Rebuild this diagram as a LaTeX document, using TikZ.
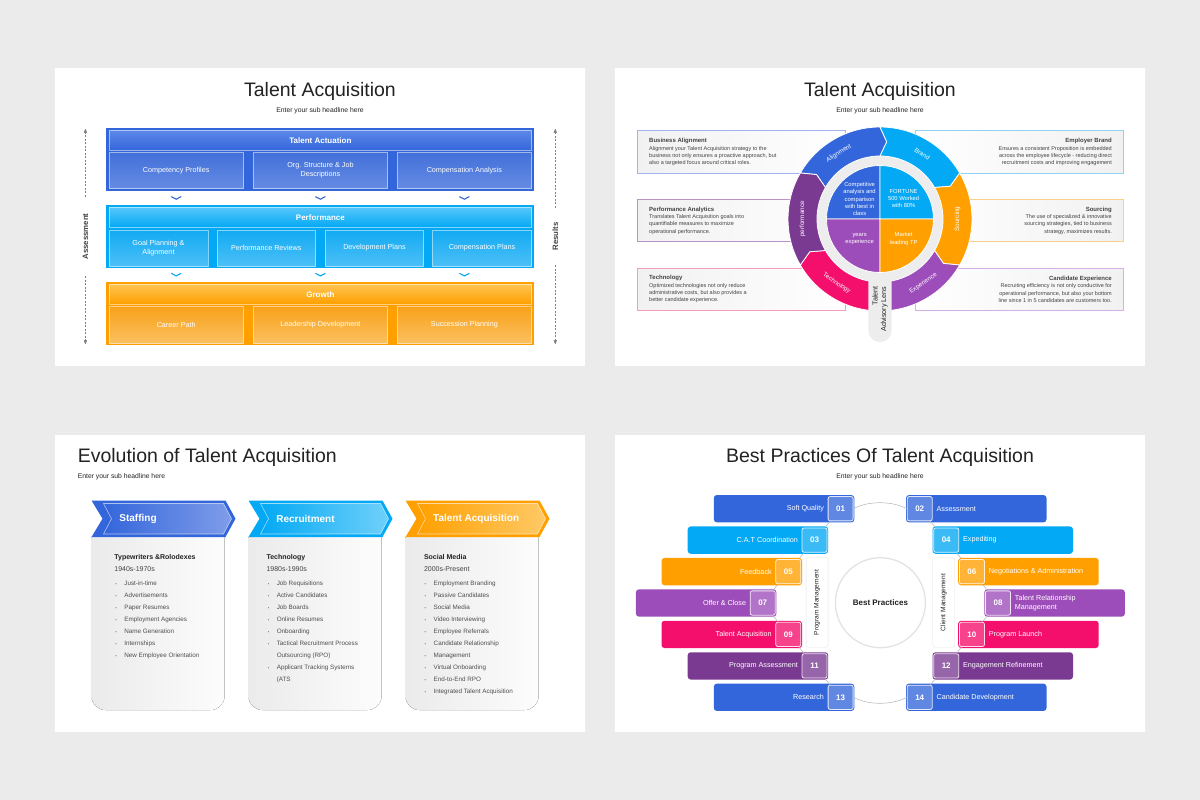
\documentclass[tikz,border=0pt]{standalone}
\usepackage{fontspec}
\setmainfont{Liberation Sans}
\usetikzlibrary{arrows,shapes,positioning}
\definecolor{pageGray}{HTML}{EBEBEB}
\definecolor{ink}{HTML}{222222}
\definecolor{boxGray}{HTML}{F1F1F1}
\definecolor{lensGray}{HTML}{EDEDED}
\definecolor{cBlue}{HTML}{3466DB}
\definecolor{cCyan}{HTML}{03A9F4}
\definecolor{cOrange}{HTML}{FFA000}
\definecolor{cPurple}{HTML}{9C4DB9}
\definecolor{cPink}{HTML}{F50F6C}
\definecolor{cPlum}{HTML}{7B3A91}
\definecolor{cBlueHi}{HTML}{5C88E8}
\definecolor{cBlueA}{HTML}{4270D9}
\definecolor{cBlueB}{HTML}{658CE4}
\definecolor{cBlueLt}{HTML}{7F9DE9}
\definecolor{cCyanHi}{HTML}{55C7FB}
\definecolor{cCyanA}{HTML}{12AAF3}
\definecolor{cCyanB}{HTML}{4CC0F7}
\definecolor{cCyanLt}{HTML}{70D0FA}
\definecolor{cOrangeHi}{HTML}{FFC552}
\definecolor{cOrangeA}{HTML}{F8A21A}
\definecolor{cOrangeB}{HTML}{FBC060}
\definecolor{cOrangeLt}{HTML}{FFC965}
\definecolor{bdBlue}{HTML}{9FB4EE}
\definecolor{bdPlum}{HTML}{B993C8}
\definecolor{bdPink}{HTML}{F59BBE}
\definecolor{bdCyan}{HTML}{8ED3F5}
\definecolor{bdOrange}{HTML}{FCD08A}
\definecolor{bdLilac}{HTML}{D5B0E3}
\newcommand\dotmark{\makebox[9pt][l]{\raisebox{0.6pt}{\scalebox{0.6}{\textbullet}}}}

\begin{document}
\begin{tikzpicture}[x=1pt,y=-1pt,>=stealth',
	title node/.style={text=ink,font=\fontsize{19.5}{22}\selectfont},
	sub node/.style={text=ink,font=\fontsize{6.8}{8}\selectfont},
	band node/.style={text=white,font=\fontsize{8}{9}\selectfont\bfseries},
	cell node/.style={text=white,align=center,font=\fontsize{7.2}{8.6}\selectfont},
	cell box/.style={draw=white,draw opacity=.5,line width=.6},
	drop mark/.style={line width=1.1},
	side node/.style={rotate=90,text=ink!85,font=\fontsize{7.8}{9}\selectfont\bfseries},
	side line/.style={->,gray,dash pattern=on 2pt off 1.5pt,line width=.5},
	info box/.style={line width=.6},
	info node/.style={text=ink!85,font=\fontsize{5.5}{7.35}\selectfont,inner sep=0},
	ring seg/.style={draw=white,line width=.8},
	seg node/.style={text=white,font=\fontsize{6.3}{7}\selectfont},
	quad node/.style={text=white,align=center,font=\fontsize{5.8}{7.2}\selectfont},
	arrow tag/.style={draw=white,draw opacity=.6,line width=.6},
	tag node/.style={text=white,font=\fontsize{10}{12}\selectfont\bfseries,anchor=west,inner sep=0},
	card head/.style={text=ink,font=\fontsize{7}{8}\selectfont\bfseries,anchor=west,inner sep=0},
	card year/.style={text=ink!85,font=\fontsize{7}{8}\selectfont,anchor=west,inner sep=0},
	card list/.style={text=ink!80,align=left,font=\fontsize{6.3}{12}\selectfont,anchor=west,inner sep=0},
	bar node/.style={minimum width=140.5,minimum height=27.3,rounded corners=3,inner sep=0},
	num node/.style={minimum width=25,minimum height=24.3,rounded corners=2,draw=white,line width=.8,
		fill=white,fill opacity=.22,draw opacity=.85,text opacity=1,text=white,
		font=\fontsize{8}{9}\selectfont\bfseries,inner sep=0},
	bar text/.style={text=white,align=left,font=\fontsize{7.2}{8.6}\selectfont,inner sep=0},
	conn/.style={gray!60,line width=.5},
	mgmt node/.style={rotate=90,draw=gray!20,fill=white,rounded corners=2,minimum width=89.5,
		minimum height=22,text=ink,font=\fontsize{6.6}{8}\selectfont}]

	\fill[pageGray] (0,0) rectangle (1200,800);
	\useasboundingbox (0,0) rectangle (1200,800);
	\fill[white] (55,68) rectangle (585,365.5);
	\fill[white] (615,68) rectangle (1145,365.5);
	\fill[white] (55,434.5) rectangle (585,732);
	\fill[white] (615,434.5) rectangle (1145,732);

	% top left: layered boxes
	\node[title node] (s1title) at (320,91.5) {Talent Acquisition};
	\node[sub node] (s1sub) at (320,111) {Enter your sub headline here};

	\fill[cBlue] (106.4,128.3) rectangle (533.7,190.7);
	\draw[cell box,top color=cBlueHi,bottom color=cBlue] (109.1,130.7) rectangle (531.7,150.3);
	\draw[cell box,top color=cBlueA,bottom color=cBlueB] (109.1,152) rectangle (243.3,188.7);
	\draw[cell box,top color=cBlueA,bottom color=cBlueB] (253.1,152) rectangle (387.7,188.7);
	\draw[cell box,top color=cBlueA,bottom color=cBlueB] (397.1,152) rectangle (531.7,188.7);
	\node[band node] (actu) at (320.4,140.7) {Talent Actuation};
	\node[cell node] (comp) at (176.2,170.4) {Competency Profiles};
	\node[cell node] (org) at (320.4,170.4) {Org. Structure \& Job\\Descriptions};
	\node[cell node] (cana) at (464.4,170.4) {Compensation Analysis};
	\draw[drop mark,cBlue] (171.2,196.6) -- (176.2,199.2) -- (181.2,196.6);
	\draw[drop mark,cBlue] (315.4,196.6) -- (320.4,199.2) -- (325.4,196.6);
	\draw[drop mark,cBlue] (459.4,196.6) -- (464.4,199.2) -- (469.4,196.6);

	\fill[cCyan] (106.4,205.3) rectangle (533.7,268);
	\draw[cell box,top color=cCyanHi,bottom color=cCyan] (109.1,207.3) rectangle (531.7,227.3);
	\draw[cell box,top color=cCyanA,bottom color=cCyanB] (109.1,230) rectangle (207.8,266);
	\draw[cell box,top color=cCyanA,bottom color=cCyanB] (217.3,230) rectangle (315.3,266);
	\draw[cell box,top color=cCyanA,bottom color=cCyanB] (325.5,230) rectangle (423.5,266);
	\draw[cell box,top color=cCyanA,bottom color=cCyanB] (432.3,230) rectangle (531.7,266);
	\node[band node] (perf) at (320.4,217.5) {Performance};
	\node[cell node] (goal) at (158.5,248) {Goal Planning \&\\Alignment};
	\node[cell node] (prev) at (266.3,248) {Performance Reviews};
	\node[cell node] (dev) at (374.5,248) {Development Plans};
	\node[cell node] (cplan) at (482,248) {Compensation Plans};
	\draw[drop mark,cCyan] (171.2,273.3) -- (176.2,275.9) -- (181.2,273.3);
	\draw[drop mark,cCyan] (315.4,273.3) -- (320.4,275.9) -- (325.4,273.3);
	\draw[drop mark,cCyan] (459.4,273.3) -- (464.4,275.9) -- (469.4,273.3);

	\fill[cOrange] (106.4,282) rectangle (533.7,344.7);
	\draw[cell box,top color=cOrangeHi,bottom color=cOrange] (109.1,284) rectangle (531.7,304);
	\draw[cell box,top color=cOrangeA,bottom color=cOrangeB] (109.1,306.7) rectangle (243.3,343.3);
	\draw[cell box,top color=cOrangeA,bottom color=cOrangeB] (253.1,306.7) rectangle (387.7,343.3);
	\draw[cell box,top color=cOrangeA,bottom color=cOrangeB] (397.1,306.7) rectangle (531.7,343.3);
	\node[band node] (grow) at (320.4,294.5) {Growth};
	\node[cell node] (career) at (176.2,325) {Career Path};
	\node[cell node] (lead) at (320.4,325) {Leadership Development};
	\node[cell node] (succ) at (464.4,325) {Succession Planning};

	\coordinate (asTop) at (85.4,129);
	\coordinate (asBot) at (85.4,344);
	\node[side node,inner xsep=16.5] (assess) at (85.4,236.5) {Assessment};
	\draw[side line] (assess) -- (asTop);
	\draw[side line] (assess) -- (asBot);
	\coordinate (reTop) at (555.3,129);
	\coordinate (reBot) at (555.3,344);
	\node[side node,inner xsep=14.4] (results) at (555.3,236.5) {Results};
	\draw[side line] (results) -- (reTop);
	\draw[side line] (results) -- (reBot);

	% top right: lens wheel
	\node[title node] (s2title) at (880,91.5) {Talent Acquisition};
	\node[sub node] (s2sub) at (880,111) {Enter your sub headline here};

	\draw[info box,draw=bdBlue,left color=boxGray,right color=white] (637.5,130.7) rectangle (845,173.3);
	\draw[info box,draw=bdPlum,left color=boxGray,right color=white] (637.5,199.7) rectangle (845,241.3);
	\draw[info box,draw=bdPink,left color=boxGray,right color=white] (637.5,268.3) rectangle (845,310);
	\draw[info box,draw=bdCyan,left color=white,right color=boxGray] (915,130.7) rectangle (1123.6,173.3);
	\draw[info box,draw=bdOrange,left color=white,right color=boxGray] (915,199.7) rectangle (1123.6,241.3);
	\draw[info box,draw=bdLilac,left color=white,right color=boxGray] (915,268.3) rectangle (1123.6,310);

	\node[info node,anchor=west,align=left] (baText) at (649,152.3)
		{{\fontsize{6}{7.35}\selectfont\bfseries Business Alignment}\\Alignment your Talent Acquisition strategy to the\\business not only ensures a proactive approach, but\\also a targeted focus around critical roles.};
	\node[info node,anchor=west,align=left] (paText) at (649,220.7)
		{{\fontsize{6}{7.35}\selectfont\bfseries Performance Analytics}\\Translates Talent Acquisition goals into\\quantifiable measures to maximize\\operational performance.};
	\node[info node,anchor=west,align=left] (teText) at (649,289.2)
		{{\fontsize{6}{7.35}\selectfont\bfseries Technology}\\Optimized technologies not only reduce\\administrative costs, but also provides a\\better candidate experience.};
	\node[info node,anchor=east,align=right] (ebText) at (1112,152.3)
		{{\fontsize{6}{7.35}\selectfont\bfseries Employer Brand}\\Ensures a consistent Proposition is embedded\\across the employee lifecycle - reducing direct\\recruitment costs and improving engagement};
	\node[info node,anchor=east,align=right] (soText) at (1112,220.7)
		{{\fontsize{6}{7.35}\selectfont\bfseries Sourcing}\\The use of specialized \& innovative\\sourcing strategies, tied to business\\strategy, maximizes results.};
	\node[info node,anchor=east,align=right] (ceText) at (1112,289.2)
		{{\fontsize{6}{7.35}\selectfont\bfseries Candidate Experience}\\Recruiting efficiency is not only conductive for\\operational performance, but also your bottom\\line since 1 in 5 candidates are customers too.};

	\begin{scope}[shift={(880,219)},yscale=-1]
		\filldraw[ring seg,fill=cBlue] (150:92) arc[start angle=150,end angle=90,radius=92] -- (85:77.5) -- (90:63) arc[start angle=90,end angle=150,radius=63] -- (145:77.5) -- cycle;
		\filldraw[ring seg,fill=cCyan] (90:92) arc[start angle=90,end angle=30,radius=92] -- (25:77.5) -- (30:63) arc[start angle=30,end angle=90,radius=63] -- (85:77.5) -- cycle;
		\filldraw[ring seg,fill=cOrange] (30:92) arc[start angle=30,end angle=-30,radius=92] -- (-35:77.5) -- (-30:63) arc[start angle=-30,end angle=30,radius=63] -- (25:77.5) -- cycle;
		\filldraw[ring seg,fill=cPurple] (-30:92) arc[start angle=-30,end angle=-90,radius=92] -- (-95:77.5) -- (-90:63) arc[start angle=-90,end angle=-30,radius=63] -- (-35:77.5) -- cycle;
		\filldraw[ring seg,fill=cPink] (-90:92) arc[start angle=-90,end angle=-150,radius=92] -- (-155:77.5) -- (-150:63) arc[start angle=-150,end angle=-90,radius=63] -- (-95:77.5) -- cycle;
		\filldraw[ring seg,fill=cPlum] (-150:92) arc[start angle=-150,end angle=-210,radius=92] -- (-215:77.5) -- (-210:63) arc[start angle=-210,end angle=-150,radius=63] -- (-155:77.5) -- cycle;
		\fill[lensGray] (0,0) circle[radius=62.5];
		\node[seg node,rotate=32] (sgAlign) at (122:77.5) {Alignment};
		\node[seg node,rotate=-33] (sgBrand) at (57:77.5) {Brand};
		\node[seg node,rotate=90] (sgSource) at (0:77.5) {Sourcing};
		\node[seg node,rotate=34] (sgExp) at (-56:77.5) {Experience};
		\node[seg node,rotate=-34] (sgTech) at (-124:77.5) {Technology};
		\node[seg node,rotate=90] (sgPerf) at (180:77.5) {performance};
	\end{scope}
	\fill[lensGray,rounded corners=11.7] (868.3,262) rectangle (891.7,342);
	\begin{scope}[shift={(880,219)},yscale=-1]
		\filldraw[ring seg,fill=cBlue] (0,0) -- (90:53.5) arc[start angle=90,end angle=180,radius=53.5] -- cycle;
		\filldraw[ring seg,fill=cCyan] (0,0) -- (0:53.5) arc[start angle=0,end angle=90,radius=53.5] -- cycle;
		\filldraw[ring seg,fill=cPurple] (0,0) -- (180:53.5) arc[start angle=180,end angle=270,radius=53.5] -- cycle;
		\filldraw[ring seg,fill=cOrange] (0,0) -- (270:53.5) arc[start angle=270,end angle=360,radius=53.5] -- cycle;
	\end{scope}
	\node[quad node] (qComp) at (859.6,199) {Competitive\\analysis and\\comparison\\with best in\\class};
	\node[quad node] (qFort) at (903.6,198.7) {FORTUNE\\500 Worked\\with 80\%};
	\node[quad node] (qYear) at (859.6,239) {years\\experience};
	\node[quad node] (qMark) at (903.6,239) {Market\\leading TP};
	\node[rotate=90,align=right,text=ink,font=\fontsize{7.2}{8.6}\selectfont] (lens) at (880,309) {Talent\\Advisory Lens};

	% bottom left: evolution
	\node[title node,anchor=west,inner sep=0] (s3title) at (77.6,457.7) {Evolution of Talent Acquisition};
	\node[sub node,anchor=west,inner sep=0] (s3sub) at (77.6,477) {Enter your sub headline here};

	\fill[left color=black!8,right color=black!1] (91.5,537) -- (91.5,696) arc[start angle=180,end angle=90,radius=14] -- (210.5,710) arc[start angle=90,end angle=0,radius=14] -- (224.5,537) -- cycle;
	\fill[left color=black!8,right color=black!1] (248.5,537) -- (248.5,696) arc[start angle=180,end angle=90,radius=14] -- (367.5,710) arc[start angle=90,end angle=0,radius=14] -- (381.5,537) -- cycle;
	\fill[left color=black!8,right color=black!1] (405.5,537) -- (405.5,696) arc[start angle=180,end angle=90,radius=14] -- (524.5,710) arc[start angle=90,end angle=0,radius=14] -- (538.5,537) -- cycle;

	\fill[cBlue] (91.5,500.5) -- (225.5,500.5) -- (235.5,518.7) -- (225.5,537) -- (91.5,537) -- (102.5,518.7) -- cycle;
	\draw[arrow tag,left color=cBlue,right color=cBlueLt] (103.5,503.5) -- (223.5,503.5) -- (231.5,518.7) -- (223.5,534) -- (103.5,534) -- (111.5,518.7) -- cycle;
	\fill[cCyan] (248.5,500.5) -- (382.5,500.5) -- (392.5,518.7) -- (382.5,537) -- (248.5,537) -- (259.5,518.7) -- cycle;
	\draw[arrow tag,left color=cCyan,right color=cCyanLt] (260.5,503.5) -- (380.5,503.5) -- (388.5,518.7) -- (380.5,534) -- (260.5,534) -- (268.5,518.7) -- cycle;
	\fill[cOrange] (405.5,500.5) -- (539.5,500.5) -- (549.5,518.7) -- (539.5,537) -- (405.5,537) -- (416.5,518.7) -- cycle;
	\draw[arrow tag,left color=cOrange,right color=cOrangeLt] (417.5,503.5) -- (537.5,503.5) -- (545.5,518.7) -- (537.5,534) -- (417.5,534) -- (425.5,518.7) -- cycle;
	\node[tag node] (staff) at (119.2,519) {Staffing};
	\node[tag node] (recr) at (276.1,519) {Recruitment};
	\node[tag node] (tacq) at (433,519) {Talent Acquisition};

	\node[card head] (h1) at (114.2,557.3) {Typewriters \&Rolodexes};
	\node[card year] (y1) at (114.2,569.3) {1940s-1970s};
	\node[card list] (l1) at (115.2,620.3) {\dotmark Just-in-time\\\dotmark Advertisements\\\dotmark Paper Resumes\\\dotmark Employment Agencies\\\dotmark Name Generation\\\dotmark Internships\\\dotmark New Employee Orientation};
	\node[card head] (h2) at (266.3,557.3) {Technology};
	\node[card year] (y2) at (266.3,569.3) {1980s-1990s};
	\node[card list] (l2) at (267.6,632.3) {\dotmark Job Requisitions\\\dotmark Active Candidates\\\dotmark Job Boards\\\dotmark Online Resumes\\\dotmark Onboarding\\\dotmark Tactical Recruitment Process\\\makebox[9pt]{}Outsourcing (RPO)\\\dotmark Applicant Tracking Systems\\\makebox[9pt]{}(ATS};
	\node[card head] (h3) at (423.8,557.3) {Social Media};
	\node[card year] (y3) at (423.8,569.3) {2000s-Present};
	\node[card list] (l3) at (424.5,638.3) {\dotmark Employment Branding\\\dotmark Passive Candidates\\\dotmark Social Media\\\dotmark Video Interviewing\\\dotmark Employee Referrals\\\dotmark Candidate Relationship\\\dotmark Management\\\dotmark Virtual Onboarding\\\dotmark End-to-End RPO\\\dotmark Integrated Talent Acquisition};

	% bottom right: best practices
	\node[title node] (s4title) at (880,457.7) {Best Practices Of Talent Acquisition};
	\node[sub node] (s4sub) at (880,477) {Enter your sub headline here};

	\node[mgmt node] (pm) at (817.1,602.5) {Program Management};
	\node[mgmt node] (cm) at (943.7,602.5) {Client Management};
	\node[circle,draw=gray!22,line width=1.3,fill=white,minimum size=90,text=ink,
		font=\fontsize{8}{9}\selectfont\bfseries] (bp) at (880.4,602.7) {Best Practices};

	\node[bar node,fill=cBlue] (bar01) at (784.05,508.7) {};
	\node[num node,left=1pt of bar01.east] (n01) {01};
	\node[bar text,left=3.5pt of n01] (t01) {Soft Quality};
	\node[bar node,fill=cCyan] (bar03) at (757.95,540.1) {};
	\node[num node,left=1pt of bar03.east] (n03) {03};
	\node[bar text,left=3.5pt of n03] (t03) {C.A.T Coordination};
	\node[bar node,fill=cOrange] (bar05) at (731.75,571.6) {};
	\node[num node,left=1pt of bar05.east] (n05) {05};
	\node[bar text,left=3.5pt of n05] (t05) {Feedback};
	\node[bar node,fill=cPurple] (bar07) at (706.15,603) {};
	\node[num node,left=1pt of bar07.east] (n07) {07};
	\node[bar text,left=3.5pt of n07] (t07) {Offer \& Close};
	\node[bar node,fill=cPink] (bar09) at (731.75,634.4) {};
	\node[num node,left=1pt of bar09.east] (n09) {09};
	\node[bar text,left=3.5pt of n09] (t09) {Talent Acquisition};
	\node[bar node,fill=cPlum] (bar11) at (757.95,665.9) {};
	\node[num node,left=1pt of bar11.east] (n11) {11};
	\node[bar text,left=3.5pt of n11] (t11) {Program Assessment};
	\node[bar node,fill=cBlue] (bar13) at (784.05,697.3) {};
	\node[num node,left=1pt of bar13.east] (n13) {13};
	\node[bar text,left=3.5pt of n13] (t13) {Research};

	\node[bar node,fill=cBlue] (bar02) at (976.25,508.7) {};
	\node[num node,right=1pt of bar02.west] (n02) {02};
	\node[bar text,right=3.8pt of n02] (t02) {Assessment};
	\node[bar node,fill=cCyan] (bar04) at (1002.75,540.1) {};
	\node[num node,right=1pt of bar04.west] (n04) {04};
	\node[bar text,right=3.8pt of n04] (t04) {Expediting};
	\node[bar node,fill=cOrange] (bar06) at (1028.45,571.6) {};
	\node[num node,right=1pt of bar06.west] (n06) {06};
	\node[bar text,right=3.8pt of n06] (t06) {Negotiations \& Administration};
	\node[bar node,fill=cPurple] (bar08) at (1054.55,603) {};
	\node[num node,right=1pt of bar08.west] (n08) {08};
	\node[bar text,right=3.8pt of n08] (t08) {Talent Relationship\\Management};
	\node[bar node,fill=cPink] (bar10) at (1028.45,634.4) {};
	\node[num node,right=1pt of bar10.west] (n10) {10};
	\node[bar text,right=3.8pt of n10] (t10) {Program Launch};
	\node[bar node,fill=cPlum] (bar12) at (1002.75,665.9) {};
	\node[num node,right=1pt of bar12.west] (n12) {12};
	\node[bar text,right=3.8pt of n12] (t12) {Engagement Refinement};
	\node[bar node,fill=cBlue] (bar14) at (976.25,697.3) {};
	\node[num node,right=1pt of bar14.west] (n14) {14};
	\node[bar text,right=3.8pt of n14] (t14) {Candidate Development};

	\draw[conn] (n01) -- (n03) (n03) -- (n05) (n05) -- (n07) (n07) -- (n09) (n09) -- (n11) (n11) -- (n13);
	\draw[conn] (n02) -- (n04) (n04) -- (n06) (n06) -- (n08) (n08) -- (n10) (n10) -- (n12) (n12) -- (n14);
	\draw[conn] (n01.east) .. controls (868,500.7) and (892,500.7) .. (n02.west);
	\draw[conn] (n13.east) .. controls (868,705.3) and (892,705.3) .. (n14.west);

\end{tikzpicture}
\end{document}
